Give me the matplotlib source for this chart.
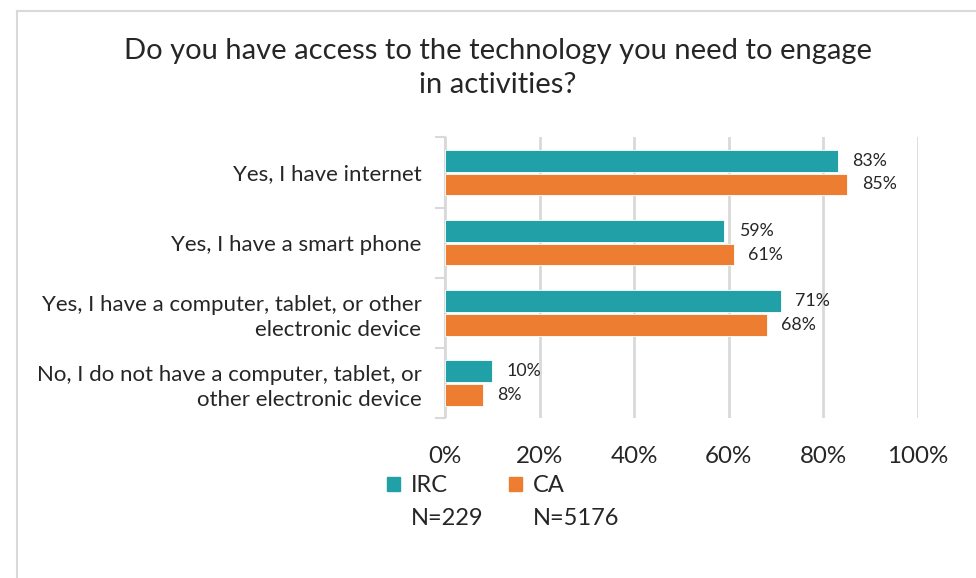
import matplotlib
matplotlib.use("Agg")
import matplotlib.pyplot as plt
from matplotlib.patches import Patch
from matplotlib.lines import Line2D
import numpy as np

plt.rcParams['font.family'] = ['Lato', 'DejaVu Sans']

categories = ["Yes, I have internet",
              "Yes, I have a smart phone",
              "Yes, I have a computer, tablet, or other\nelectronic device",
              "No, I do not have a computer, tablet, or\nother electronic device"]
irc = [83, 59, 71, 10]
ca = [85, 61, 68, 8]
series_names = ["IRC", "CA"]
series_n = ["N=229", "N=5176"]
xticks = [0, 20, 40, 60, 80, 100]
title = "Do you have access to the technology you need to engage\nin activities?"

teal = "#22A0A8"
orange = "#ED7D31"
grid_c = "#D9D9D9"
text_c = "#262626"

W, H = 976, 578
fig = plt.figure(figsize=(W/100, H/100), dpi=100)
ax = fig.add_axes([445/W, 1-418/H, (918-445)/W, (418-137.5)/H])

y = np.arange(len(categories))
bh = 0.31
gap = 0.015
b1 = ax.barh(y - bh/2 - gap, irc, height=bh, color=teal, edgecolor="white", linewidth=0.6, zorder=3)
b2 = ax.barh(y + bh/2 + gap, ca, height=bh, color=orange, edgecolor="white", linewidth=0.6, zorder=3)

for bars, vals in ((b1, irc), (b2, ca)):
    for rect, v in zip(bars, vals):
        ax.annotate(f"{v}%", (rect.get_width(), rect.get_y() + rect.get_height()/2),
                    xytext=(10.5, 0), textcoords="offset points", va="center", ha="left",
                    fontsize=12.8, color=text_c)

ax.set_xlim(0, 100)
ax.set_ylim(len(categories) - 0.5, -0.5)
ax.set_xticks(xticks)
ax.set_xticklabels([f"{t}%" for t in xticks], fontsize=17.4, color=text_c)
ax.set_yticks(y)
ax.set_yticklabels(categories, fontsize=16, color=text_c, linespacing=1.3)
ax.set_yticks(np.arange(-0.5, len(categories), 1), minor=True)
ax.tick_params(axis='y', which='major', length=0, pad=17)
ax.tick_params(axis='y', which='minor', length=7, color=grid_c, width=1.5)
ax.tick_params(axis='x', length=0, pad=20)
ax.xaxis.grid(True, color=grid_c, linewidth=2, zorder=0)
ax.set_axisbelow(True)
for s in ("top", "right", "bottom"):
    ax.spines[s].set_visible(False)
ax.spines["left"].set_color(grid_c)
ax.spines["left"].set_linewidth(1.5)

fig.text(498/W, 1-68/H, title, ha="center", va="center", fontsize=21, color=text_c, linespacing=1.4)

handles = [Patch(color=teal), Patch(color="none"), Patch(color=orange), Patch(color="none")]
labels = [series_names[0], series_n[0], series_names[1], series_n[1]]
leg = fig.legend(handles, labels, ncol=2, loc="center", bbox_to_anchor=(503/W, 1-502/H),
                 frameon=False, fontsize=17, handlelength=0.55, handleheight=0.55,
                 handletextpad=0.45, columnspacing=1.1, labelspacing=0.5, labelcolor=text_c)

fig.add_artist(Line2D([17/W, 17/W], [0, 1-11/H], color=grid_c, linewidth=1.5))
fig.add_artist(Line2D([17/W, 1], [1-11/H, 1-11/H], color=grid_c, linewidth=1.5))

fig.savefig("out.png", dpi=100)
